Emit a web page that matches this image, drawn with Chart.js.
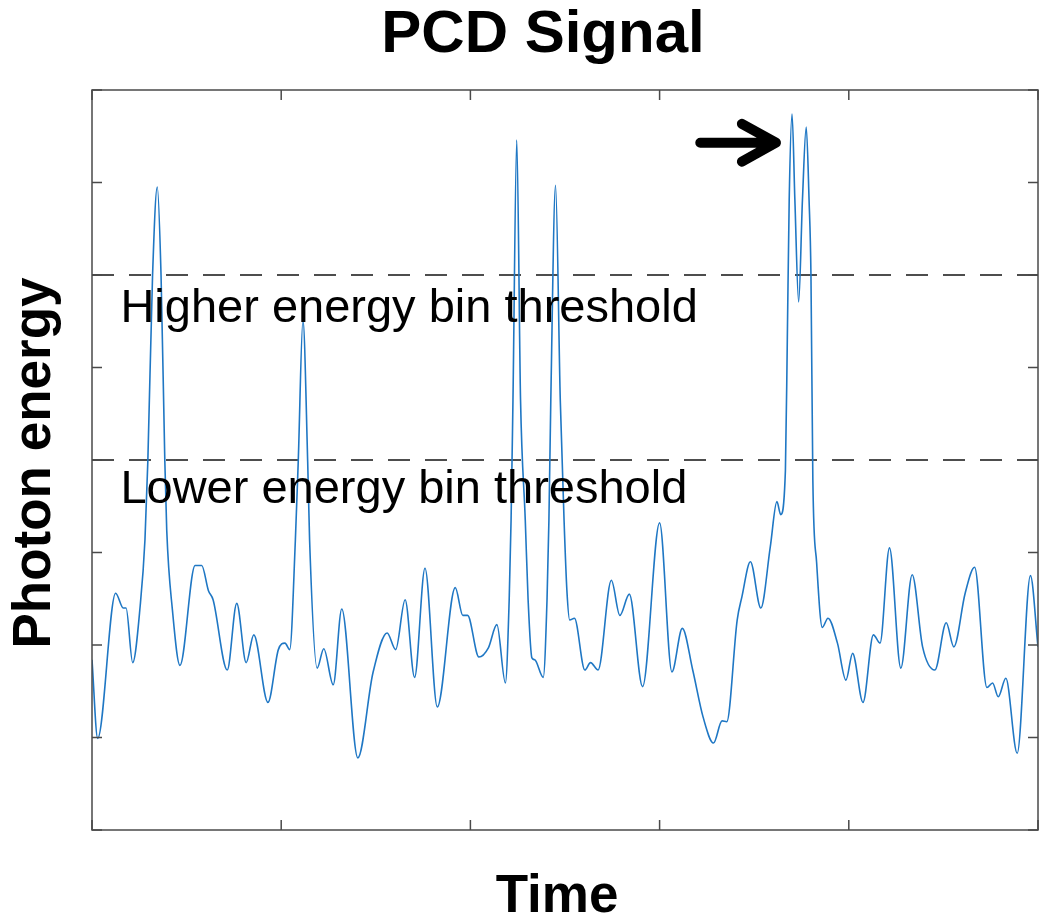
<!DOCTYPE html>
<html lang="en">
  <head>
    <meta charset="UTF-8" />
    <title>PCD Signal</title>
    <script src="https://cdn.jsdelivr.net/npm/chart.js@4"></script>
    <style>
      html, body { margin: 0; padding: 0; background: #fff; }
      #wrap { width: 1050px; height: 922px; }
    </style>
  </head>
  <body>
    <div id="wrap"><canvas id="pcdChart" width="1050" height="922"></canvas></div>
    <script>
      // signal (time in samples, energy in axis units)
      const timeSamples = [
        0, 6, 25, 33, 36, 43, 51, 56, 59, 64, 69, 73, 77, 79, 85, 93,
        109, 116, 123, 128, 143, 153, 163, 171, 186, 197, 204, 209, 215, 218, 223, 228,
        230, 238, 245, 255, 264, 281, 297, 312, 321, 331, 341, 352, 365, 384, 392, 397,
        409, 419, 428, 437, 441, 443, 445, 449, 453, 458, 461, 465, 468, 477, 481, 483,
        485, 490, 495, 499, 502, 505, 510, 521, 527, 535, 549, 558, 568, 582, 600, 613,
        624, 635, 646, 657, 666, 671, 682, 687, 696, 707, 717, 724, 728, 733, 735, 737,
        740, 743, 747, 751, 755, 758, 760, 762, 766, 772, 778, 788, 797, 804, 815, 826,
        833, 843, 855, 867, 878, 891, 903, 911, 923, 933, 946, 952, 958, 966, 978, 992, 1000
      ];
      const photonEnergy = [
        -0.16, -1.01, 0.56, 0.40, 0.40, -0.19, 0.43, 1.14, 1.98, 3.99, 4.95, 3.99, 1.98, 1.24, 0.38, -0.22,
        0.86, 0.86, 0.59, 0.49, -0.27, 0.45, -0.19, 0.11, -0.62, -0.05, 0.02, -0.05, 1.14, 1.98, 3.51, 1.98,
        1.14, -0.25, -0.04, -0.43, 0.39, -1.22, -0.30, 0.13, -0.05, 0.49, -0.35, 0.83, -0.67, 0.62, 0.32, 0.32,
        -0.13, -0.03, 0.22, -0.41, 0.49, 1.35, 2.65, 5.46, 2.65, 1.35, 0.49, -0.14, -0.16, -0.35, 0.49, 1.35,
        2.65, 4.97, 2.65, 1.35, 0.59, 0.27, 0.29, -0.27, -0.19, -0.27, 0.70, 0.32, 0.55, -0.45, 1.32, -0.29,
        0.18, -0.27, -0.78, -1.06, -0.82, -0.83, 0.27, 0.52, 0.90, 0.40, 1.06, 1.55, 1.41, 1.89, 3.30, 4.81,
        5.74, 4.81, 3.71, 4.81, 5.60, 4.81, 4.00, 1.78, 0.89, 0.19, 0.29, 0.02, -0.38, -0.09, -0.62, 0.11,
        0.02, 1.05, -0.25, 0.76, -0.02, -0.27, 0.24, -0.02, 0.56, 0.84, -0.46, -0.41, -0.56, -0.36, -1.17, 0.75, -0.02
      ];

      const thresholdLevels = [4, 2];
      const thresholdNotes = ["Higher energy bin threshold", "Lower energy bin threshold"];
      const noteAnchors = [[30, 3.49], [30, 1.54]]; // x, y of each note's baseline start
      const arrowTail = [643, 5.43];
      const arrowTip = [723, 5.43];
      const arrowWing = [687, 0.205]; // x of wing ends, half spread in y

      const chartTitle = "PCD Signal";
      const xTitle = "Time";
      const yTitle = "Photon energy";

      const xTicks = [0, 200, 400, 600, 800, 1000];
      const yMin = -2, yMax = 6;

      const FONT = '"Liberation Sans", Arial, sans-serif';
      Chart.defaults.font.family = FONT;
      Chart.defaults.color = "#000";

      const signalPoints = timeSamples.map((t, i) => ({ x: t, y: photonEnergy[i] }));
      const thresholdSets = thresholdLevels.map((lvl) => ({
        data: [{ x: 0, y: lvl }, { x: 1000, y: lvl }],
        borderColor: "#4d4d4d",
        borderWidth: 2,
        borderDash: [22, 15],
        pointRadius: 0,
        tension: 0,
      }));

      // MATLAB-like box with inward ticks, titles, notes and the arrow
      const framePlugin = {
        id: "frame",
        afterDatasetsDraw(chart) {
          const { ctx, chartArea: a, scales } = chart;
          const x = scales.x, y = scales.y;
          ctx.save();
          ctx.strokeStyle = "#4a4a4a";
          ctx.lineWidth = 1.5;
          ctx.strokeRect(a.left, a.top, a.right - a.left, a.bottom - a.top);
          ctx.beginPath();
          xTicks.forEach((v) => {
            const px = x.getPixelForValue(v);
            ctx.moveTo(px, a.bottom); ctx.lineTo(px, a.bottom - 10);
            ctx.moveTo(px, a.top); ctx.lineTo(px, a.top + 10);
          });
          for (let v = yMin; v <= yMax; v++) {
            const py = y.getPixelForValue(v);
            ctx.moveTo(a.left, py); ctx.lineTo(a.left + 10, py);
            ctx.moveTo(a.right, py); ctx.lineTo(a.right - 10, py);
          }
          ctx.stroke();

          ctx.fillStyle = "#000";
          ctx.textBaseline = "alphabetic";
          ctx.font = "47px " + FONT;
          thresholdNotes.forEach((txt, i) => {
            ctx.fillText(txt, x.getPixelForValue(noteAnchors[i][0]), y.getPixelForValue(noteAnchors[i][1]));
          });

          // titles
          ctx.textAlign = "center";
          ctx.font = "bold 60px " + FONT;
          ctx.fillText(chartTitle, 543, 52);
          ctx.font = "bold 53px " + FONT;
          ctx.fillText(xTitle, 557, 912);
          ctx.save();
          ctx.translate(50, 463);
          ctx.rotate(-Math.PI / 2);
          ctx.fillText(yTitle, 0, 0);
          ctx.restore();

          const tx = x.getPixelForValue(arrowTail[0]), ty = y.getPixelForValue(arrowTail[1]);
          const hx = x.getPixelForValue(arrowTip[0]), hy = y.getPixelForValue(arrowTip[1]);
          const wx = x.getPixelForValue(arrowWing[0]);
          const wUp = y.getPixelForValue(arrowTip[1] + arrowWing[1]);
          const wDn = y.getPixelForValue(arrowTip[1] - arrowWing[1]);
          ctx.strokeStyle = "#000";
          ctx.lineWidth = 10;
          ctx.lineCap = "round";
          ctx.lineJoin = "round";
          ctx.beginPath();
          ctx.moveTo(tx, ty); ctx.lineTo(hx - 4, hy);
          ctx.moveTo(wx, wUp); ctx.lineTo(hx, hy); ctx.lineTo(wx, wDn);
          ctx.stroke();
          ctx.restore();
        },
      };

      new Chart(document.getElementById("pcdChart"), {
        type: "line",
        data: {
          datasets: [
            {
              data: signalPoints,
              borderColor: "#1f77c4",
              borderWidth: 1.6,
              pointRadius: 0,
              cubicInterpolationMode: "monotone",
            },
            ...thresholdSets,
          ],
        },
        options: {
          responsive: false,
          animation: false,
          layout: { padding: { top: 90, left: 92, right: 12, bottom: 92 } },
          plugins: {
            legend: { display: false },
            tooltip: { enabled: false },
            title: { display: false },
          },
          scales: {
            x: {
              type: "linear",
              min: 0,
              max: 1000,
              grid: { display: false, drawTicks: false },
              border: { display: false },
              ticks: { display: false, stepSize: 200 },
            },
            y: {
              min: yMin,
              max: yMax,
              grid: { display: false, drawTicks: false },
              border: { display: false },
              ticks: { display: false, stepSize: 1 },
            },
          },
        },
        plugins: [framePlugin],
      });
    </script>
  </body>
</html>
